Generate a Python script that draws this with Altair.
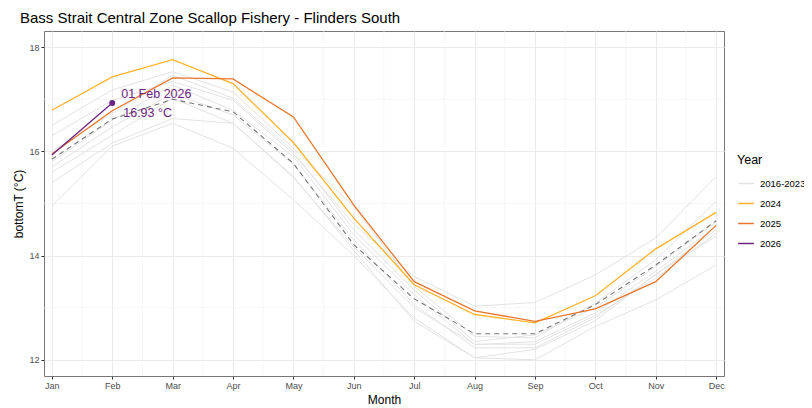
import altair as alt
import pandas as pd

MONTHS = list(range(1, 13))
MONTH_LABELS = ["Jan", "Feb", "Mar", "Apr", "May", "Jun", "Jul", "Aug", "Sep", "Oct", "Nov", "Dec"]
Y_TICKS = [12, 14, 16, 18]
MINOR_X = [1.5, 2.5, 3.5, 4.5, 5.5, 6.5, 7.5, 8.5, 9.5, 10.5, 11.5]
MINOR_Y = [13, 15, 17]

Y2016 = [16.30, 16.98, 17.34, 16.98, 15.95, 14.60, 13.60, 13.03, 13.10, 13.63, 14.34, 15.52]
Y2017 = [16.50, 17.18, 17.53, 17.14, 16.06, 14.94, 13.41, 12.45, 12.42, 13.09, 13.92, 15.04]
Y2018 = [16.00, 16.73, 17.46, 17.02, 16.00, 14.50, 13.34, 12.35, 12.48, 13.00, 13.79, 14.65]
Y2019 = [15.80, 16.60, 17.27, 16.79, 15.90, 14.40, 13.25, 12.29, 12.35, 12.90, 13.70, 14.56]
Y2020 = [15.70, 16.47, 17.11, 16.70, 15.75, 14.30, 13.06, 12.23, 12.23, 12.81, 13.63, 14.50]
Y2021 = [15.60, 16.31, 17.02, 16.54, 15.50, 14.17, 13.00, 12.30, 12.30, 12.85, 13.57, 14.43]
Y2022 = [15.40, 16.16, 16.63, 16.54, 15.52, 14.10, 12.74, 12.04, 12.20, 12.75, 13.65, 14.37]
Y2023 = [14.95, 16.10, 16.54, 16.06, 15.07, 14.00, 12.80, 12.04, 12.00, 12.64, 13.15, 13.82]
Y2024 = [16.79, 17.43, 17.76, 17.30, 16.17, 14.72, 13.44, 12.87, 12.71, 13.23, 14.13, 14.83]
Y2025 = [15.95, 16.78, 17.41, 17.39, 16.66, 14.97, 13.50, 12.94, 12.74, 12.98, 13.50, 14.58]
Y2026 = [15.93, 16.93]
MEAN = [15.85, 16.62, 17.00, 16.76, 15.77, 14.21, 13.17, 12.50, 12.50, 13.06, 13.82, 14.67]

GROUPS = ["2016-2023", "2024", "2025", "2026"]
COLORS = ["#E3E3E3", "#FDB22A", "#E8772E", "#6B2480"]
LAST_LABEL = "01 Feb 2026"
LAST_VALUE_LABEL = "16.93 °C"

grey_rows = []
for yr, vals in zip(range(2016, 2024), [Y2016, Y2017, Y2018, Y2019, Y2020, Y2021, Y2022, Y2023]):
    for m, v in zip(MONTHS, vals):
        grey_rows.append({"month": m, "value": v, "year": str(yr), "group": "2016-2023"})
grey_df = pd.DataFrame(grey_rows)

col_rows = []
for yr, vals in zip(["2024", "2025", "2026"], [Y2024, Y2025, Y2026]):
    for m, v in zip(MONTHS, vals):
        col_rows.append({"month": m, "value": v, "year": yr, "group": yr})
col_df = pd.DataFrame(col_rows)

mean_df = pd.DataFrame({"month": MONTHS, "value": MEAN})
last_df = pd.DataFrame({"month": [MONTHS[len(Y2026) - 1]], "value": [Y2026[-1]],
                        "t1": [LAST_LABEL], "t2": [LAST_VALUE_LABEL]})

FONT = "Liberation Sans"
label_expr = "[" + ",".join("'%s'" % s for s in MONTH_LABELS) + "][datum.value - 1]"

xscale = alt.Scale(domain=[0.87, 12.13], nice=False, zero=False)
yscale = alt.Scale(domain=[11.69, 18.31], nice=False, zero=False)

xaxis = alt.Axis(values=MONTHS, labelExpr=label_expr, title="Month", grid=True)
yaxis = alt.Axis(values=Y_TICKS, title="bottomT (°C)", grid=True)

color = alt.Color("group:N", scale=alt.Scale(domain=GROUPS, range=COLORS),
                  legend=alt.Legend(title="Year", orient="none", legendX=693, legendY=123,
                                    symbolType="stroke", symbolSize=250, symbolStrokeWidth=1.5,
                                    labelFontSize=9.5, titleFontSize=12.5, titleFontWeight="normal",
                                    labelOffset=5, rowPadding=6, titlePadding=8, labelLimit=200,
                                    labelColor="#000000", titleColor="#000000",
                                    labelFont=FONT, titleFont=FONT))

minor_x = alt.Chart(pd.DataFrame({"mx": MINOR_X})).mark_rule(color="#F0F0F0", strokeWidth=0.6).encode(
    x=alt.X("mx:Q", scale=xscale, axis=xaxis))
minor_y = alt.Chart(pd.DataFrame({"my": MINOR_Y})).mark_rule(color="#F0F0F0", strokeWidth=0.6).encode(
    y=alt.Y("my:Q", scale=yscale, axis=yaxis))

grey = alt.Chart(grey_df).mark_line(strokeWidth=1).encode(
    x=alt.X("month:Q", scale=xscale, axis=xaxis),
    y=alt.Y("value:Q", scale=yscale, axis=yaxis),
    color=color, detail="year:N")

mean = alt.Chart(mean_df).mark_line(color="#777777", strokeWidth=1.1, strokeDash=[5, 4]).encode(
    x=alt.X("month:Q", scale=xscale), y=alt.Y("value:Q", scale=yscale))

cols = alt.Chart(col_df).mark_line(strokeWidth=1.3).encode(
    x=alt.X("month:Q", scale=xscale), y=alt.Y("value:Q", scale=yscale),
    color=color, detail="year:N")

pt = alt.Chart(last_df).mark_circle(size=36, color="#6B2480", opacity=1).encode(
    x=alt.X("month:Q", scale=xscale), y=alt.Y("value:Q", scale=yscale))
t1 = alt.Chart(last_df).mark_text(align="left", baseline="middle", dx=9, dy=-9, fontSize=12.5,
                                  color="#6B2480", font=FONT).encode(
    x=alt.X("month:Q", scale=xscale), y=alt.Y("value:Q", scale=yscale), text="t1:N")
t2 = alt.Chart(last_df).mark_text(align="left", baseline="middle", dx=11, dy=10, fontSize=12.5,
                                  color="#6B2480", font=FONT).encode(
    x=alt.X("month:Q", scale=xscale), y=alt.Y("value:Q", scale=yscale), text="t2:N")

chart = alt.layer(minor_x, minor_y, grey, mean, cols, pt, t1, t2).properties(
    width=680, height=345,
    title=alt.TitleParams("Bass Strait Central Zone Scallop Fishery - Flinders South",
                          anchor="start", frame="group", dx=-24, dy=15, offset=8, fontSize=15,
                          fontWeight="normal", font=FONT, color="#000000", baseline="alphabetic"),
    autosize=alt.AutoSizeParams(type="none"),
    padding={"left": 36, "top": 23, "right": 80, "bottom": 32},
).configure_view(stroke="#777777", strokeWidth=1).configure_axis(
    gridColor="#EBEBEB", gridWidth=1, domain=False, tickColor="#333333", tickSize=3,
    labelColor="#4D4D4D", labelFontSize=9, labelFont=FONT, labelPadding=2,
    titleFont=FONT, titleFontSize=12, titleFontWeight="normal", titleColor="#000000",
).configure_axisX(titlePadding=4).configure_axisY(titlePadding=3)

chart.save("out.html", embed_options={"renderer": "svg", "actions": False})
